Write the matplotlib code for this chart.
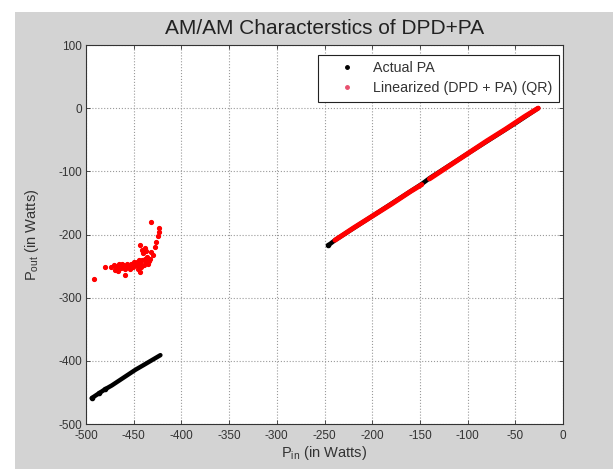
import matplotlib
matplotlib.use("Agg")
import matplotlib.pyplot as plt
from matplotlib.lines import Line2D
from matplotlib.patches import Rectangle

plt.rcParams['font.family'] = ['Liberation Sans', 'DejaVu Sans']

# ---- data ----
x_ticks = [-500, -450, -400, -350, -300, -250, -200, -150, -100, -50, 0]
y_ticks = [-500, -400, -300, -200, -100, 0, 100]

# Actual PA, lower segment (dense dots)
pa_low_x = [-494, -486, -480, -473, -465, -456, -448, -440, -431, -422]
pa_low_y = [-459, -451, -445, -439, -431, -422, -414, -407, -399, -391]
# Actual PA, upper segment (mostly hidden under the red trace)
pa_high_x = [-246, -239, -200, -148, -140, -100, -50, -26]
pa_high_y = [-217, -209, -171, -120, -111, -72, -24, 0]

# Linearized (DPD + PA), upper straight trace, two pieces with a small gap
lin_a_x = [-239, -220, -200, -180, -160, -148]
lin_a_y = [-209, -190, -171, -152, -132, -121]
lin_b_x = [-140, -120, -100, -80, -60, -40, -26]
lin_b_y = [-112, -92, -72, -52, -33, -13, 0]

# Linearized (DPD + PA), scattered cluster at low input
lin_c_x = [-492, -480, -474, -471, -469, -467, -465, -463, -461, -459, -457,
           -455, -453, -451, -449, -447, -445, -443, -441, -439, -437, -435,
           -470, -466, -462, -458, -454, -450, -446, -442, -438, -459, -443,
           -443, -441, -440, -438, -436, -433, -432, -428, -427, -425, -424,
           -423, -432, -430, -437, -434, -444]
lin_c_y = [-271, -251, -252, -248, -255, -250, -246, -253, -249, -255, -247,
           -251, -246, -252, -248, -244, -250, -245, -241, -248, -243, -246,
           -256, -257, -246, -252, -254, -243, -255, -251, -238, -264, -259,
           -217, -224, -230, -222, -235, -238, -228, -219, -212, -202, -196,
           -190, -181, -232, -226, -242, -240]

# ---- figure ----
fig = plt.figure(figsize=(6.13, 4.69), dpi=100, facecolor='white')
fig.patches.append(Rectangle((15 / 613, 0), 1 - 15 / 613, 1 - 12 / 469,
                             transform=fig.transFigure, facecolor='#d3d3d3',
                             edgecolor='none', zorder=-10))

ax = fig.add_axes([86 / 613, 1 - 424 / 469, 477 / 613, 379 / 469])
ax.set_facecolor('white')

black = '#000000'
red = '#ff0000'

ax.plot(pa_low_x, pa_low_y, '-', color=black, lw=3.2, solid_capstyle='round', zorder=3)
ax.plot(pa_low_x[:3], pa_low_y[:3], '.', color=black, ms=6, zorder=3)
ax.plot(pa_high_x, pa_high_y, '-', color=black, lw=3.2, solid_capstyle='round', zorder=3)
ax.plot(pa_high_x[:1], pa_high_y[:1], '.', color=black, ms=6, zorder=3)

ax.plot(lin_a_x, lin_a_y, '-', color=red, lw=3.6, solid_capstyle='round', zorder=4)
ax.plot(lin_b_x, lin_b_y, '-', color=red, lw=3.6, solid_capstyle='round', zorder=4)
ax.plot(lin_c_x, lin_c_y, '.', color=red, ms=5.5, zorder=4)

ax.set_xlim(-500, 0)
ax.set_ylim(-500, 100)
ax.set_xticks(x_ticks)
ax.set_yticks(y_ticks)
ax.set_xticklabels([str(v) for v in x_ticks])
ax.set_yticklabels([str(v) for v in y_ticks])
ax.tick_params(direction='in', length=3, width=0.6, labelsize=8.5,
               top=True, right=True, colors='#333333', labelcolor='#333333')
ax.tick_params(axis='x', pad=4)
ax.tick_params(axis='y', pad=3)
ax.grid(True, linestyle=':', color='#9a9a9a', linewidth=0.8)
for s in ax.spines.values():
    s.set_linewidth(0.8)
    s.set_color('#333333')

ax.set_title('AM/AM Characterstics of DPD+PA', fontsize=15, pad=8, color='#222222')
ax.set_xlabel(r'P$_{\mathregular{in}}$ (in Watts)', fontsize=10.5, labelpad=2, color='#333333')
ax.set_ylabel(r'P$_{\mathregular{out}}$ (in Watts)', fontsize=10.5, labelpad=12, color='#333333')

handles = [Line2D([], [], ls='none', marker='.', color=black, ms=5),
           Line2D([], [], ls='none', marker='.', color='#e8506e', ms=5)]
leg = ax.legend(handles, ['Actual PA', 'Linearized (DPD + PA) (QR)'],
                loc='upper right', fontsize=10.3, frameon=True, fancybox=False,
                edgecolor='#222222', framealpha=1, borderpad=0.45,
                handletextpad=0.2, labelspacing=0.4, handlelength=3.2,
                borderaxespad=0, bbox_to_anchor=(1 - 4 / 477, 1 - 10 / 379))
leg.get_frame().set_linewidth(0.8)
for t in leg.get_texts():
    t.set_color('#333333')

fig.savefig('out.png', dpi=100, facecolor=fig.get_facecolor())
